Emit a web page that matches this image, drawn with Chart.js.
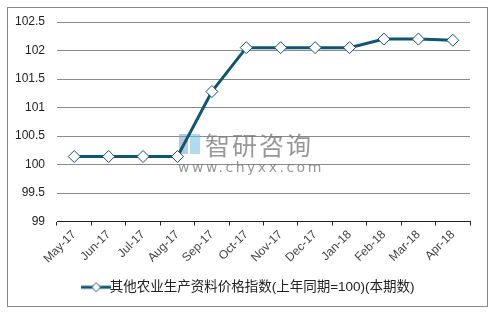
<!DOCTYPE html>
<html lang="zh-CN">

<head>
    <meta charset="UTF-8">
    <title>其他农业生产资料价格指数</title>
    <script src="https://cdn.jsdelivr.net/npm/chart.js"></script>
    <style>
        html, body { margin: 0; padding: 0; background: #fff; }
        #box { position: relative; width: 495px; height: 312px; }
    </style>
</head>

<body>
    <div id="box"><canvas id="grafico" width="495" height="312"></canvas></div>

    <script>
        // dados
        const meses = ["May-17", "Jun-17", "Jul-17", "Aug-17", "Sep-17", "Oct-17",
            "Nov-17", "Dec-17", "Jan-18", "Feb-18", "Mar-18", "Apr-18"];
        const indice = [100.14, 100.14, 100.14, 100.14, 101.28, 102.05,
            102.05, 102.05, 102.05, 102.2, 102.2, 102.18];
        const nomeSerie = "其他农业生产资料价格指数(上年同期=100)(本期数)";
        const yMin = 99, yMax = 102.5, yPasso = 0.5;

        const corLinha = "#0f5670";
        const fonte = "'Liberation Sans', Arial, 'Noto Sans CJK SC', sans-serif";

        // ícone da legenda: linha com losango
        const icone = document.createElement("canvas");
        icone.width = 30; icone.height = 12;
        (function () {
            const c = icone.getContext("2d");
            c.strokeStyle = corLinha; c.lineWidth = 3;
            c.beginPath(); c.moveTo(0, 6); c.lineTo(30, 6); c.stroke();
            c.fillStyle = "#fff"; c.lineWidth = 1;
            c.beginPath(); c.moveTo(15, 1.5); c.lineTo(19.5, 6); c.lineTo(15, 10.5); c.lineTo(10.5, 6); c.closePath();
            c.fill(); c.stroke();
        })();

        // moldura, marca d'água e ajuste da legenda
        const extras = {
            id: "extras",
            afterLayout(chart) {
                chart.legend.left += 17;
                chart.legend.right += 17;
            },
            beforeDatasetsDraw(chart) {
                const c = chart.ctx;
                c.save();
                c.fillStyle = "rgba(120,160,200,0.55)";
                c.fillRect(179, 134, 9, 20);
                c.fillStyle = "rgba(110,190,230,0.55)";
                c.fillRect(190, 134, 10, 20);
                c.fillStyle = "rgba(125,125,125,0.8)";
                c.font = "25px 'Noto Sans CJK SC'";
                c.textBaseline = "middle";
                c.letterSpacing = "2px";
                c.fillText("智研咨询", 205, 145);
                c.font = "14px 'DejaVu Sans'";
                c.letterSpacing = "2.5px";
                c.fillText("www.chyxx.com", 178, 168);
                c.restore();
            },
            afterDraw(chart) {
                const c = chart.ctx;
                c.save();
                c.strokeStyle = "#888";
                c.lineWidth = 1;
                c.strokeRect(7.5, 7.5, 480, 299);
                c.restore();
            }
        };

        new Chart(document.getElementById("grafico"), {
            type: "line",
            data: {
                labels: meses,
                datasets: [{
                    label: nomeSerie,
                    data: indice,
                    borderColor: corLinha,
                    borderWidth: 3,
                    pointStyle: "rectRot",
                    pointRadius: 6,
                    pointBorderWidth: 1,
                    pointBackgroundColor: "#fff",
                    pointBorderColor: corLinha,
                    tension: 0
                }]
            },
            options: {
                responsive: false,
                animation: false,
                devicePixelRatio: 1,
                layout: { padding: { left: 0, right: 25, top: 22, bottom: 8 } },
                plugins: {
                    legend: {
                        position: "bottom",
                        labels: {
                            color: "#222",
                            font: { family: fonte, size: 13.5 },
                            boxWidth: 30,
                            boxHeight: 12,
                            padding: 8,
                            usePointStyle: true,
                            generateLabels: () => [{ text: nomeSerie, pointStyle: icone, fontColor: "#222", lineWidth: 0 }]
                        }
                    },
                    tooltip: { enabled: false }
                },
                scales: {
                    x: {
                        offset: true,
                        afterFit: s => { s.height = 51; },
                        grid: { display: true, drawOnChartArea: false, offset: true, tickLength: 4, tickColor: "#222" },
                        border: { color: "#222", width: 1 },
                        ticks: { minRotation: 45, maxRotation: 45, color: "#444", font: { family: fonte, size: 12 }, padding: 2 }
                    },
                    y: {
                        min: yMin,
                        max: yMax,
                        afterFit: s => { s.width = 57; },
                        ticks: {
                            stepSize: yPasso, color: "#222", font: { family: fonte, size: 12 }, padding: 12,
                            callback: v => String(Math.round(v * 10) / 10)
                        },
                        grid: { color: "#8a8a8a", drawTicks: false },
                        border: { display: false }
                    }
                }
            },
            plugins: [extras]
        });
    </script>
</body>

</html>
